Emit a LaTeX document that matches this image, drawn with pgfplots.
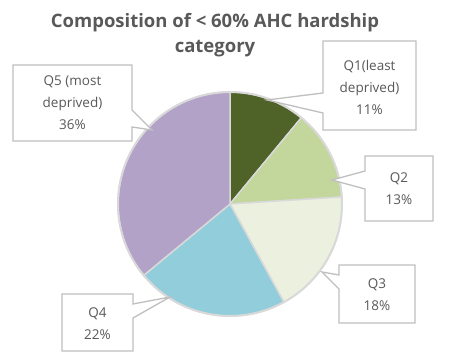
\documentclass[border=0pt]{standalone}
\usepackage{pgfplots}
\pgfplotsset{compat=1.18}
\usepackage{fontspec}
\setmainfont{Open Sans}
\definecolor{qa}{HTML}{4F6228}
\definecolor{qb}{HTML}{C3D69B}
\definecolor{qc}{HTML}{EBF1DE}
\definecolor{qd}{HTML}{92CDDC}
\definecolor{qe}{HTML}{B3A2C7}
\definecolor{pieborder}{HTML}{D9D9D9}
\definecolor{boxborder}{HTML}{BFBFBF}
\definecolor{txt}{HTML}{595959}
% data (percent)
\def\vA{11}\def\vB{13}\def\vC{18}\def\vD{22}\def\vE{36}
\pgfmathsetmacro\aO{90}
\pgfmathsetmacro\aA{\aO-3.6*\vA}
\pgfmathsetmacro\aB{\aA-3.6*\vB}
\pgfmathsetmacro\aC{\aB-3.6*\vC}
\pgfmathsetmacro\aD{\aC-3.6*\vD}
\pgfmathsetmacro\aE{\aD-3.6*\vE}
\begin{document}
\begin{tikzpicture}
\begin{axis}[scale only axis, width=453bp, height=355bp,
  xmin=0, xmax=453, ymin=0, ymax=355, hide axis, clip=false]
\path (axis cs:0,0) rectangle (axis cs:453,355);
% slices
\filldraw[fill=qa, draw=pieborder, line width=1.5bp, line join=round] (axis cs:230,151) -- ++(\aO:112bp) arc[start angle=\aO, end angle=\aA, radius=112bp] -- cycle;
\filldraw[fill=qb, draw=pieborder, line width=1.5bp, line join=round] (axis cs:230,151) -- ++(\aA:112bp) arc[start angle=\aA, end angle=\aB, radius=112bp] -- cycle;
\filldraw[fill=qc, draw=pieborder, line width=1.5bp, line join=round] (axis cs:230,151) -- ++(\aB:112bp) arc[start angle=\aB, end angle=\aC, radius=112bp] -- cycle;
\filldraw[fill=qd, draw=pieborder, line width=1.5bp, line join=round] (axis cs:230,151) -- ++(\aC:112bp) arc[start angle=\aC, end angle=\aD, radius=112bp] -- cycle;
\filldraw[fill=qe, draw=pieborder, line width=1.5bp, line join=round] (axis cs:230,151) -- ++(\aD:112bp) arc[start angle=\aD, end angle=\aE, radius=112bp] -- cycle;
\draw[pieborder, line width=2bp] (axis cs:230,151) circle[radius=112bp];
% callouts
\filldraw[fill=white, draw=boxborder, line width=1.3bp] (axis cs:13,290) -- (axis cs:132,290) -- (axis cs:132,245) -- (axis cs:152,225) -- (axis cs:132,228) -- (axis cs:132,214) -- (axis cs:13,214) -- cycle;
\filldraw[fill=white, draw=boxborder, line width=1.3bp] (axis cs:323,314) -- (axis cs:416,314) -- (axis cs:416,225) -- (axis cs:323,225) -- (axis cs:323,242) -- (axis cs:267,255) -- (axis cs:323,262) -- cycle;
\filldraw[fill=white, draw=boxborder, line width=1.3bp] (axis cs:365,199) -- (axis cs:433,199) -- (axis cs:433,134) -- (axis cs:365,134) -- (axis cs:365,166) -- (axis cs:332,175) -- (axis cs:365,184) -- cycle;
\filldraw[fill=white, draw=boxborder, line width=1.3bp] (axis cs:339,90) -- (axis cs:415,90) -- (axis cs:415,32) -- (axis cs:339,32) -- (axis cs:339,66) -- (axis cs:322,83) -- (axis cs:339,80) -- cycle;
\filldraw[fill=white, draw=boxborder, line width=1.3bp] (axis cs:62,61) -- (axis cs:133,61) -- (axis cs:133,51) -- (axis cs:170,58) -- (axis cs:133,37) -- (axis cs:133,4) -- (axis cs:62,4) -- cycle;
% texts
\node[txt, align=center, font=\fontsize{13.5bp}{22bp}\selectfont] at (axis cs:72.5,252) {Q5 (most\\deprived)\\36\%};
\node[txt, align=center, font=\fontsize{13.5bp}{22bp}\selectfont] at (axis cs:369.5,268) {Q1(least\\deprived)\\11\%};
\node[txt, align=center, font=\fontsize{13.5bp}{22bp}\selectfont] at (axis cs:399,166) {Q2\\13\%};
\node[txt, align=center, font=\fontsize{13.5bp}{22bp}\selectfont] at (axis cs:377,60) {Q3\\18\%};
\node[txt, align=center, font=\fontsize{13.5bp}{22bp}\selectfont] at (axis cs:97.5,31) {Q4\\22\%};
\node[txt, align=center, font=\bfseries\fontsize{18.5bp}{25bp}\selectfont] at (axis cs:215,320) {Composition of < 60\% AHC hardship\\category};
\end{axis}
\end{tikzpicture}
\end{document}
